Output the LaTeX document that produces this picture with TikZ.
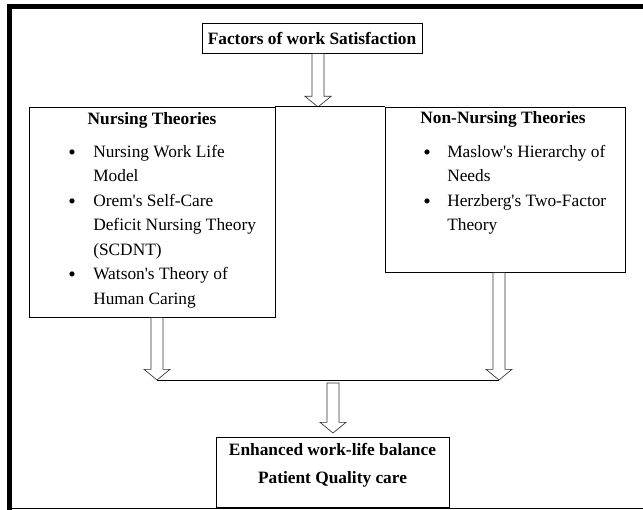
\documentclass[tikz,border=0pt]{standalone}
\usepackage{fontspec}
\setmainfont{Liberation Serif}
\usetikzlibrary{calc}

\tikzset{
	box/.style={draw, line width=0.6pt, inner sep=0pt},
	txt/.style={inner sep=0pt, font=\fontsize{13}{18.4}\selectfont},
	bold/.style={inner sep=0pt, font=\fontsize{13}{18.4}\selectfont\bfseries},
	dot/.style={inner sep=0pt, font=\fontsize{16}{18.4}\selectfont},
	harrow/.style={draw=black!80, line width=0.5pt}
}
% hollow down arrow from #1 to #2
\newcommand{\hollow}[2]{%
	\draw[harrow] let \p1=(#1), \p2=(#2) in
	(\x1-4.5pt,\y1) -- (\x1-4.5pt,\y2+8pt) -- (\x1-9.75pt,\y2+8pt) -- (\x1,\y2)
	-- (\x1+9.75pt,\y2+8pt) -- (\x1+4.5pt,\y2+8pt) -- (\x1+4.5pt,\y1) -- cycle;}

\begin{document}
\begin{tikzpicture}[x=0.75pt,y=-0.75pt]
	\useasboundingbox (0,0) rectangle (643,510);
	% frame
	\draw[line width=3.75pt] (9.5,510) -- (9.5,6.5) -- (643,6.5);
	\draw[line width=0.6pt] (9.5,508) -- (643,508);
	
	\node[box, minimum width=165pt, minimum height=22.5pt, font=\fontsize{13}{18.4}\selectfont\bfseries] (fws) at (312,38) {Factors of work Satisfaction};
	\node[box, minimum width=184.5pt, minimum height=157.5pt] (nurs) at (152,212) {};
	\node[box, minimum width=180pt, minimum height=123.75pt] (nonnurs) at (505,189.5) {};
	\node[box, minimum width=174.75pt, minimum height=52.5pt] (outc) at (332.5,472) {};
	
	% nursing theories
	\node[bold, anchor=base] (nth) at (152,125) {Nursing Theories};
	\foreach \t [count=\i] in {Nursing Work Life, Model, Orem\textquotesingle s Self-Care, Deficit Nursing Theory, {(SCDNT)}, Watson\textquotesingle s Theory of, Human Caring}
	\node[txt, anchor=base west] (nl\i) at (93,{157+24.5*(\i-1)}) {\t};
	\foreach \y [count=\i] in {159,208,281.5}
	\node[dot, anchor=base] (bl\i) at (72,\y) {\textbullet};
	
	% non-nursing theories
	\node[bold, anchor=base] (nnth) at (503,123) {Non-Nursing Theories};
	\foreach \t [count=\i] in {Maslow\textquotesingle s Hierarchy of, Needs, Herzberg\textquotesingle s Two-Factor, Theory}
	\node[txt, anchor=base west] (nr\i) at (447,{157+24.5*(\i-1)}) {\t};
	\foreach \y [count=\i] in {159,208}
	\node[dot, anchor=base] (br\i) at (427,\y) {\textbullet};
	
	% outcome
	\node[bold, anchor=base] (o1) at (332.5,455) {Enhanced work-life balance};
	\node[bold, anchor=base] (o2) at (332.5,483) {Patient Quality care};
	
	% connectors
	\coordinate (jt) at (318,107);
	\coordinate (jl) at (157,380);
	\coordinate (jr) at (499,380);
	\coordinate (ms) at (333,383);
	\coordinate (jm) at (333,433);
	
	\hollow{fws.south -| jt}{jt}
	\draw[line width=0.6pt] (nurs.north east) -- (nonnurs.north west);
	\hollow{nurs.south -| jl}{jl}
	\hollow{nonnurs.south -| jr}{jr}
	\draw[line width=0.6pt] (jl) -- (jr);
	\hollow{ms}{jm}
\end{tikzpicture}
\end{document}
